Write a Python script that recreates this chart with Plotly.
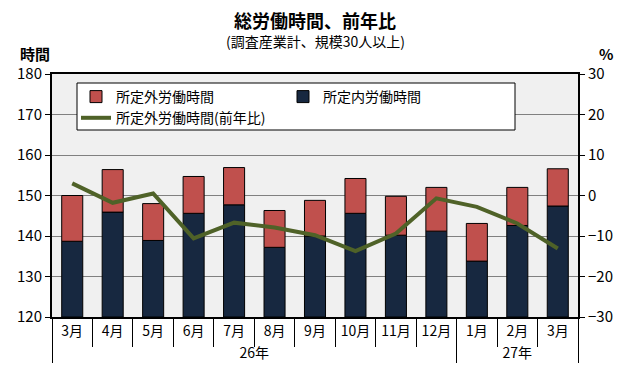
import plotly.graph_objects as go

years = ["26年"] * 10 + ["27年"] * 3
months = ["3月", "4月", "5月", "6月", "7月", "8月", "9月", "10月", "11月", "12月", "1月", "2月", "\u200b3月"]
scheduled = [138.7, 145.9, 138.9, 145.6, 147.7, 137.2, 140.0, 145.6, 140.2, 141.2, 133.8, 142.6, 147.4]
total = [150.0, 156.4, 148.0, 154.7, 156.9, 146.3, 148.8, 154.2, 149.8, 152.0, 143.1, 152.0, 156.6]
overtime_yoy = [3.0, -1.8, 0.5, -10.6, -6.7, -7.9, -9.8, -13.7, -9.4, -0.7, -2.8, -6.9, -13.1]
overtime = [round(t - s, 1) for t, s in zip(total, scheduled)]

BASE = 120
FONT = "Noto Sans CJK JP"

# page has an 8px body margin; work in page coordinates and convert
OFF = 8
W, H = 614, 364
L, R, T, B = 52 - OFF, W - (578 - OFF), 74 - OFF, H - (317 - OFF)
PW, PH = W - L - R, H - T - B


def px(xp):
    return (xp - OFF - L) / PW


def py(yp):
    return (H - B - (yp - OFF)) / PH


x = [years, months]
fig = go.Figure()
fig.add_trace(go.Bar(
    x=x, y=[s - BASE for s in scheduled], base=BASE, name="所定内労働時間",
    marker=dict(color="#172840", line=dict(color="black", width=1)),
    width=0.52, legendrank=2,
))
fig.add_trace(go.Bar(
    x=x, y=overtime, base=scheduled, name="所定外労働時間",
    marker=dict(color="#C0504D", line=dict(color="black", width=1)),
    width=0.52, legendrank=1,
))
fig.add_trace(go.Scatter(
    x=x, y=overtime_yoy, name="所定外労働時間(前年比)", yaxis="y2",
    mode="lines", line=dict(color="#4F6228", width=4), legendrank=3,
))

fig.update_layout(
    width=W, height=H,
    margin=dict(l=L, r=R, t=T, b=B),
    paper_bgcolor="white", plot_bgcolor="#F0F0F0",
    font=dict(family=FONT, color="black", size=14),
    barmode="overlay",
    showlegend=True,
    legend=dict(
        orientation="h", x=px(76), y=py(81), xanchor="left", yanchor="top",
        bgcolor="rgba(0,0,0,0)", borderwidth=0,
        entrywidth=162, entrywidthmode="pixels", traceorder="normal",
        font=dict(size=14, family=FONT), itemwidth=30,
    ),
    xaxis=dict(
        type="multicategory", showline=True, linecolor="black", linewidth=2,
        mirror=True, ticks="outside", tickson="boundaries", ticklen=28,
        tickcolor="black", showdividers=True, dividercolor="black", dividerwidth=1,
        tickfont=dict(size=14, family=FONT), automargin=False, showgrid=False,
    ),
    yaxis=dict(
        range=[120, 180], dtick=10, showline=True, linecolor="black", linewidth=2,
        ticks="outside", ticklen=5, tickcolor="black", gridcolor="#808080", gridwidth=1,
        tickfont=dict(size=15, family=FONT), automargin=False, zeroline=False,
    ),
    yaxis2=dict(
        range=[-30, 30], dtick=10, overlaying="y", side="right", showline=True,
        linecolor="black", linewidth=2, ticks="outside", ticklen=5, tickcolor="black",
        showgrid=False, zeroline=False, tickfont=dict(size=15, family=FONT), automargin=False,
    ),
    shapes=[
        dict(type="rect", xref="paper", yref="paper", x0=px(77), x1=px(515), y0=py(130), y1=py(83),
             fillcolor="white", line=dict(color="black", width=1), layer="above"),
    ],
    annotations=[
        dict(text="<b>総労働時間、前年比</b>", x=px(315), y=py(20), font=dict(size=18)),
        dict(text="(調査産業計、規模30人以上)", x=px(315), y=py(41), font=dict(size=14)),
        dict(text="<b>時間</b>", x=px(35), y=py(54), font=dict(size=15)),
        dict(text="<b>%</b>", x=px(606), y=py(54), font=dict(size=15)),
    ],
)
for a in fig.layout.annotations:
    a.update(xref="paper", yref="paper", xanchor="center", yanchor="middle", showarrow=False)

fig.write_html("out.html")
